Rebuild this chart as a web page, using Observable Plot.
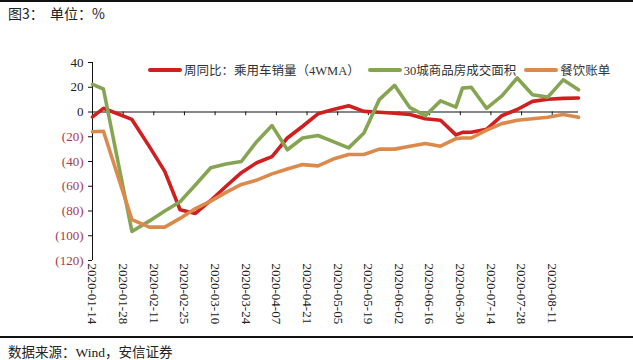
<!DOCTYPE html>
<html>
<head>
<meta charset="utf-8">
<script src="https://cdn.jsdelivr.net/npm/d3@7"></script>
<script src="https://cdn.jsdelivr.net/npm/@observablehq/plot@0.6"></script>
<style>
  body { margin: 0; background: #fff; }
  #wrap { position: relative; width: 633px; height: 360px; overflow: hidden; background: #fff; }
  #wrap svg { position: absolute; left: 0; top: 0; }
  #wrap svg text { font-family: "Liberation Serif", "Times New Roman", serif; }
  .title { position: absolute; left: 8px; top: 3px; font: 14px "Noto Sans CJK SC", sans-serif; color: #222; white-space: pre; }
  .rule { position: absolute; left: 0; width: 633px; height: 1.5px; background: #111; }
  .source { position: absolute; left: 8px; top: 341px; font: 13.5px "Liberation Serif", "Noto Sans CJK SC", serif; color: #222; }
  .legend { position: absolute; top: 60px; left: 148px; font: 12.5px "Liberation Serif", "Noto Sans CJK SC", serif; color: #333; display: flex; align-items: center; white-space: nowrap; }
  .sw { display: inline-block; width: 34px; height: 4px; border-radius: 2px; margin-right: 2px; }
  .item { display: flex; align-items: center; margin-right: 8px; }
</style>
</head>
<body>
<div id="wrap">
  <div class="rule" style="top:0px"></div>
  <div class="title">图3：  单位：%</div>
  <div class="rule" style="top:336px"></div>
  <div class="source">数据来源：Wind，安信证券</div>
</div>
<script>
// ---- data ----
const dates = [
  "2020-01-14","2020-01-19","2020-02-01","2020-02-09","2020-02-16","2020-02-23",
  "2020-03-01","2020-03-08","2020-03-15","2020-03-22","2020-03-29","2020-04-05",
  "2020-04-12","2020-04-19","2020-04-26","2020-05-03","2020-05-10","2020-05-17",
  "2020-05-24","2020-05-31","2020-06-07","2020-06-14","2020-06-21","2020-06-28",
  "2020-07-01","2020-07-05","2020-07-12","2020-07-19","2020-07-26","2020-08-02",
  "2020-08-09","2020-08-16","2020-08-23"
];
const carSales = [ -4, 3, -6, -28, -48, -79, -82, -71.5, -60, -49, -41, -36,
  -21, -11.5, -1.5, 2, 5, 0.5, -0.2, -1, -2, -5.5, -6.7, -18.5,
  -16.5, -16.4, -14, -3, 2, 8.6, 10.3, 11, 11.3 ];
const housing = [ 22.3, 18.6, -96.5, -88, -80, -72.5, -59, -45, -42, -40, -24, -11,
  -30.5, -21, -19, -24, -29, -17, 10, 21.5, 3.5, -3, 9, 4,
  19.3, 20, 3, 13, 27.5, 14, 12, 26, 18 ];
const catering = [ -16, -15.5, -87, -93, -93, -86, -78, -72, -65, -58.5, -55, -50,
  -46, -42.5, -43.5, -38, -34.3, -34.3, -30, -30, -27.6, -25.5, -27.6, -21.5,
  -21, -21, -14.7, -9.4, -6.7, -5.5, -4.3, -2.1, -4.3 ];
const seriesNames = ["周同比：乘用车销量（4WMA）", "30城商品房成交面积", "餐饮账单"];
const seriesColors = ["#d01f1f", "#86a552", "#dc8a4c"];
const tickLabels = ["2020-01-14","2020-01-28","2020-02-11","2020-02-25","2020-03-10",
  "2020-03-24","2020-04-07","2020-04-21","2020-05-05","2020-05-19","2020-06-02",
  "2020-06-16","2020-06-30","2020-07-14","2020-07-28","2020-08-11"];
const yTicks = [40, 20, 0, -20, -40, -60, -80, -100, -120];

// ---- build ----
const parse = d3.utcParse("%Y-%m-%d");
const seriesValues = [carSales, housing, catering];
const rows = [];
seriesNames.forEach((name, s) => {
  dates.forEach((d, i) => rows.push({ series: name, date: parse(d), value: seriesValues[s][i] }));
});
const xDomain = [parse("2020-01-14"), parse("2020-08-23")];
const tickDates = tickLabels.map(parse);
const fmtY = v => v < 0 ? `(${-v})` : `${v}`;

const chart = Plot.plot({
  width: 633,
  height: 360,
  marginLeft: 92,
  marginRight: 55,
  marginTop: 62,
  marginBottom: 100,
  style: { background: "transparent", fontFamily: "'Liberation Serif', serif" },
  x: { type: "utc", domain: xDomain, axis: null },
  y: { domain: [-120, 40], axis: null },
  marks: [
    // y axis line and ticks
    Plot.ruleX([xDomain[0]], { y1: -120, y2: 40, stroke: "#111", strokeWidth: 1 }),
    Plot.axisY({ ticks: yTicks, tickSize: 4, tickFormat: () => "", label: null, stroke: "#111" }),
    Plot.text(yTicks, {
      x: xDomain[0], y: d => d, text: fmtY, textAnchor: "end", dx: -9,
      fontSize: 13, fill: d => d < 0 ? "#a8384a" : "#222"
    }),
    // zero line with ticks
    Plot.ruleY([0], { stroke: "#111", strokeWidth: 1.2 }),
    Plot.ruleX(tickDates, { y1: 0, y2: -3, stroke: "#111" }),
    // series lines
    ...seriesNames.map((name, s) => Plot.line(rows.filter(r => r.series === name), {
      x: "date", y: "value", stroke: seriesColors[s], strokeWidth: 3.6,
      strokeLinejoin: "round", strokeLinecap: "round"
    })),
    // x tick labels (rotated)
    Plot.axisX({
      ticks: tickDates, tickSize: 0, tickRotate: 90, tickPadding: 3,
      tickFormat: d3.utcFormat("%Y-%m-%d"), label: null,
      fontSize: 13, fill: "#222"
    })
  ]
});
const wrap = document.getElementById("wrap");
wrap.insertBefore(chart, wrap.firstChild);

// legend
const legend = document.createElement("div");
legend.className = "legend";
seriesNames.forEach((name, s) => {
  const item = document.createElement("div");
  item.className = "item";
  const sw = document.createElement("span");
  sw.className = "sw";
  sw.style.background = seriesColors[s];
  item.appendChild(sw);
  const t = document.createElement("span");
  t.textContent = name;
  item.appendChild(t);
  legend.appendChild(item);
});
wrap.appendChild(legend);
</script>
</body>
</html>
